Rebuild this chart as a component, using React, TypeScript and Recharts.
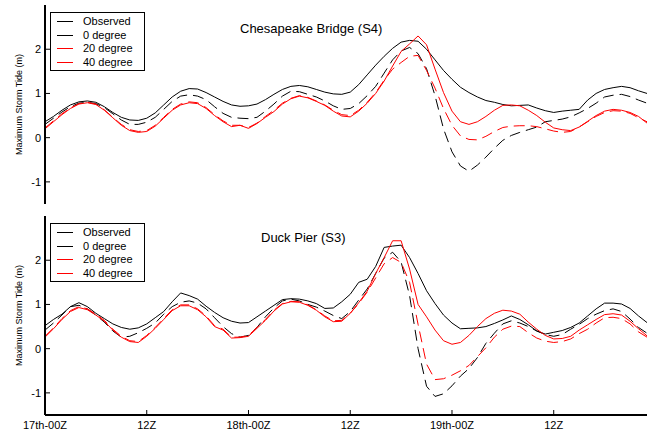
import React from "react";
import { LineChart, Line, XAxis, YAxis } from "recharts";

// Hours since 17th-00Z
const hours: number[] = Array.from({ length: 72 }, (_, i) => i);

const xTicks = [0, 12, 24, 36, 48, 60];
const xTickLabels = ["17th-00Z", "12Z", "18th-00Z", "12Z", "19th-00Z", "12Z"];
const yTicks = [-1, 0, 1, 2];

// Chesapeake Bridge (S4)
const s4Observed = [0.36,0.48,0.62,0.74,0.81,0.83,0.80,0.70,0.57,0.46,0.40,0.39,0.44,0.56,0.74,0.92,1.05,1.11,1.10,1.02,0.92,0.82,0.74,0.71,0.72,0.76,0.86,0.98,1.09,1.16,1.18,1.15,1.09,1.03,0.99,0.98,1.03,1.20,1.42,1.64,1.84,2.02,2.16,2.20,2.18,2.00,1.76,1.52,1.32,1.14,1.02,0.92,0.84,0.80,0.75,0.72,0.73,0.74,0.67,0.61,0.57,0.60,0.62,0.64,0.85,1.00,1.09,1.13,1.16,1.13,1.06,1.00];
const s4Deg0 = [0.30,0.44,0.58,0.70,0.78,0.80,0.77,0.68,0.54,0.40,0.30,0.30,0.35,0.46,0.64,0.82,0.94,0.97,0.94,0.86,0.70,0.55,0.46,0.44,0.43,0.46,0.60,0.76,0.94,1.05,1.04,0.98,0.92,0.83,0.72,0.64,0.66,0.77,0.95,1.16,1.46,1.76,1.96,2.04,1.90,1.56,0.95,0.20,-0.32,-0.64,-0.76,-0.62,-0.44,-0.24,-0.06,0.05,0.12,0.18,0.24,0.36,0.39,0.42,0.47,0.56,0.66,0.78,0.92,0.96,0.98,0.93,0.85,0.78];
const s4Deg20 = [0.20,0.36,0.52,0.66,0.76,0.79,0.75,0.62,0.45,0.28,0.16,0.12,0.14,0.26,0.44,0.62,0.74,0.79,0.77,0.66,0.50,0.36,0.25,0.28,0.21,0.32,0.46,0.59,0.76,0.88,0.94,0.90,0.82,0.73,0.60,0.49,0.47,0.60,0.78,1.00,1.28,1.62,1.95,2.12,2.30,2.10,1.55,1.02,0.60,0.36,0.30,0.36,0.48,0.62,0.73,0.74,0.72,0.62,0.50,0.35,0.22,0.18,0.16,0.24,0.37,0.50,0.60,0.64,0.62,0.57,0.48,0.33];
const s4Deg40 = [0.22,0.38,0.54,0.67,0.77,0.80,0.76,0.63,0.46,0.30,0.18,0.14,0.16,0.28,0.46,0.64,0.76,0.81,0.79,0.68,0.52,0.38,0.28,0.28,0.23,0.33,0.48,0.62,0.78,0.89,0.95,0.91,0.83,0.74,0.62,0.52,0.50,0.62,0.80,1.02,1.30,1.55,1.70,1.84,1.86,1.52,1.12,0.66,0.28,0.04,-0.04,-0.05,0.03,0.14,0.23,0.26,0.27,0.27,0.25,0.20,0.15,0.12,0.14,0.24,0.36,0.48,0.57,0.61,0.60,0.55,0.45,0.36];

// Duck Pier (S3)
const s3Observed = [0.52,0.66,0.78,0.95,1.04,0.95,0.80,0.68,0.56,0.48,0.44,0.47,0.56,0.70,0.84,1.06,1.26,1.20,1.12,0.96,0.82,0.70,0.62,0.58,0.59,0.72,0.85,0.98,1.11,1.13,1.12,1.08,1.02,0.91,0.92,1.06,1.23,1.50,1.57,1.86,2.29,2.32,2.34,2.06,1.70,1.31,1.02,0.76,0.58,0.45,0.46,0.47,0.50,0.57,0.65,0.74,0.66,0.54,0.40,0.33,0.37,0.41,0.48,0.58,0.74,0.90,1.03,1.03,1.01,0.91,0.74,0.59];
const s3Deg0 = [0.42,0.58,0.76,0.95,0.98,0.90,0.76,0.60,0.40,0.26,0.28,0.36,0.46,0.58,0.78,0.95,1.05,1.08,1.03,0.90,0.70,0.50,0.34,0.26,0.30,0.48,0.72,0.92,1.08,1.12,1.08,1.00,0.94,0.85,0.75,0.68,0.84,1.10,1.35,1.70,2.05,2.18,1.96,1.20,0.00,-0.85,-1.08,-1.02,-0.84,-0.62,-0.45,-0.20,0.12,0.35,0.56,0.63,0.58,0.50,0.40,0.32,0.28,0.32,0.44,0.55,0.68,0.78,0.86,0.90,0.84,0.67,0.48,0.35];
const s3Deg20 = [0.26,0.45,0.66,0.84,0.93,0.88,0.76,0.62,0.42,0.26,0.16,0.14,0.28,0.46,0.66,0.86,0.97,0.97,0.88,0.72,0.50,0.42,0.24,0.25,0.28,0.46,0.64,0.85,1.01,1.06,1.05,0.98,0.87,0.72,0.61,0.62,0.80,1.04,1.30,1.70,2.06,2.44,2.44,1.80,1.00,0.72,0.42,0.18,0.10,0.14,0.30,0.50,0.68,0.80,0.87,0.85,0.78,0.60,0.44,0.30,0.22,0.23,0.28,0.42,0.54,0.66,0.77,0.79,0.76,0.62,0.45,0.29];
const s3Deg40 = [0.28,0.47,0.68,0.86,0.95,0.90,0.78,0.64,0.44,0.28,0.18,0.16,0.30,0.48,0.68,0.88,0.99,0.99,0.90,0.74,0.52,0.44,0.26,0.26,0.30,0.48,0.66,0.87,1.02,1.07,1.06,0.99,0.88,0.74,0.63,0.64,0.80,1.02,1.28,1.60,1.92,2.06,1.95,1.50,0.55,-0.35,-0.70,-0.68,-0.60,-0.50,-0.38,-0.18,0.02,0.26,0.44,0.51,0.50,0.36,0.24,0.17,0.14,0.16,0.22,0.34,0.44,0.58,0.70,0.71,0.68,0.56,0.38,0.26];

const seriesNames = ["Observed", "0 degree", "20 degree", "40 degree"];
const seriesColors = ["#000000", "#000000", "#ff0000", "#ff0000"];
const seriesDash = [undefined, "11 6", undefined, "11 6"];

const FONT = "'Liberation Sans', Arial, sans-serif";

function buildData(o: number[], d0: number[], d20: number[], d40: number[]) {
  return hours.map((h, i) => ({ h, o: o[i], d0: d0[i], d20: d20[i], d40: d40[i] }));
}

const topData = buildData(s4Observed, s4Deg0, s4Deg20, s4Deg40);
const botData = buildData(s3Observed, s3Deg0, s3Deg20, s3Deg40);

const LeftTick = (props: any) => {
  const { x, y, payload } = props;
  return (
    <g>
      <line x1={x} y1={y} x2={x + 5} y2={y} stroke="#000" strokeWidth={1} />
      <text x={x - 4} y={y} textAnchor="end" dominantBaseline="central" fontSize={11} fontFamily={FONT} fill="#000">
        {payload.value}
      </text>
    </g>
  );
};

const RightTick = (props: any) => {
  const { x, y } = props;
  return <line x1={x} y1={y} x2={x - 5} y2={y} stroke="#000" strokeWidth={1} />;
};

const TopTick = (props: any) => {
  const { x, y } = props;
  return <line x1={x} y1={y} x2={x} y2={y + 5} stroke="#000" strokeWidth={1} />;
};

const BottomTickNoLabel = (props: any) => {
  const { x, y } = props;
  return <line x1={x} y1={y} x2={x} y2={y - 5} stroke="#000" strokeWidth={1} />;
};

const BottomTickLabel = (props: any) => {
  const { x, y, payload, index } = props;
  const i = xTicks.indexOf(payload.value);
  return (
    <g>
      <line x1={x} y1={y} x2={x} y2={y - 5} stroke="#000" strokeWidth={1} />
      <text x={x} y={y + 14} textAnchor="middle" fontSize={11} fontFamily={FONT} fill="#000">
        {xTickLabels[i >= 0 ? i : index]}
      </text>
    </g>
  );
};

function Panel({ data, title, titleX, titleY, showLabels, height, margin, xHeight }: any) {
  return (
    <LineChart width={651} height={height} data={data} margin={margin}>
      <XAxis
        dataKey="h"
        type="number"
        domain={[0, 71]}
        ticks={xTicks}
        allowDataOverflow
        height={xHeight}
        tickSize={0}
        tickMargin={0}
        tickLine={false}
        axisLine={{ stroke: "#000", strokeWidth: 2 }}
        tick={showLabels ? <BottomTickLabel /> : <BottomTickNoLabel />}
        interval={0}
      />
      <XAxis
        xAxisId="top"
        dataKey="h"
        type="number"
        orientation="top"
        domain={[0, 71]}
        ticks={xTicks}
        allowDataOverflow
        height={0}
        tickSize={0}
        tickMargin={0}
        tickLine={false}
        axisLine={{ stroke: "#000", strokeWidth: 2 }}
        tick={<TopTick />}
        interval={0}
      />
      <YAxis
        type="number"
        domain={[-1.5, 3]}
        ticks={yTicks}
        allowDataOverflow
        width={45}
        tickSize={0}
        tickMargin={0}
        tickLine={false}
        axisLine={{ stroke: "#000", strokeWidth: 2 }}
        tick={<LeftTick />}
        interval={0}
        label={{
          value: "Maximum Storm Tide (m)",
          angle: -90,
          position: "insideLeft",
          offset: 0,
          dx: 19,
          style: { fontSize: 9, fontFamily: FONT, fill: "#000", textAnchor: "middle" },
        }}
      />
      <YAxis
        yAxisId="right"
        orientation="right"
        type="number"
        domain={[-1.5, 3]}
        ticks={yTicks}
        allowDataOverflow
        width={0}
        tickSize={0}
        tickMargin={0}
        tickLine={false}
        axisLine={{ stroke: "#000", strokeWidth: 2 }}
        tick={<RightTick />}
        interval={0}
      />
      <Line dataKey="o" stroke={seriesColors[0]} strokeWidth={1} dot={false} isAnimationActive={false} type="linear" />
      <Line dataKey="d0" stroke={seriesColors[1]} strokeWidth={1} strokeDasharray={seriesDash[1]} dot={false} isAnimationActive={false} type="linear" />
      <Line dataKey="d20" stroke={seriesColors[2]} strokeWidth={1} dot={false} isAnimationActive={false} type="linear" />
      <Line dataKey="d40" stroke={seriesColors[3]} strokeWidth={1} strokeDasharray={seriesDash[3]} dot={false} isAnimationActive={false} type="linear" />
      <text x={titleX} y={titleY} fontSize={13} fontFamily={FONT} fill="#000" dominantBaseline="central">
        {title}
      </text>
    </LineChart>
  );
}

function LegendBox({ left, top }: { left: number; top: number }) {
  return (
    <div
      style={{
        position: "absolute",
        left,
        top,
        width: 95,
        height: 59,
        boxSizing: "border-box",
        border: "1.5px solid #000",
        background: "#fff",
        fontFamily: FONT,
        fontSize: 11,
        color: "#000",
        paddingTop: 2,
      }}
    >
      {seriesNames.map((n, i) => (
        <div key={n} style={{ display: "flex", alignItems: "center", height: 13.6, lineHeight: "13.6px" }}>
          <div style={{ width: 16, height: 0, borderTop: `1px solid ${seriesColors[i]}`, marginLeft: 6, marginRight: 10 }} />
          <span>{n}</span>
        </div>
      ))}
    </div>
  );
}

export default function App() {
  return (
    <div style={{ position: "absolute", left: 0, top: 0, width: 651, height: 432, background: "#fff" }}>
      <div style={{ position: "absolute", left: 0, top: 0 }}>
        <Panel
          data={topData}
          title="Chesapeake Bridge (S4)"
          titleX={240}
          titleY={28}
          showLabels={false}
          height={210}
          margin={{ top: 5, right: 4, bottom: 6, left: 0 }}
          xHeight={0}
        />
      </div>
      <div style={{ position: "absolute", left: 0, top: 210 }}>
        <Panel
          data={botData}
          title="Duck Pier (S3)"
          titleX={261}
          titleY={27}
          showLabels={true}
          height={222}
          margin={{ top: 6, right: 4, bottom: 0, left: 0 }}
          xHeight={17}
        />
      </div>
      <LegendBox left={50} top={12} />
      <LegendBox left={50} top={223} />
    </div>
  );
}
